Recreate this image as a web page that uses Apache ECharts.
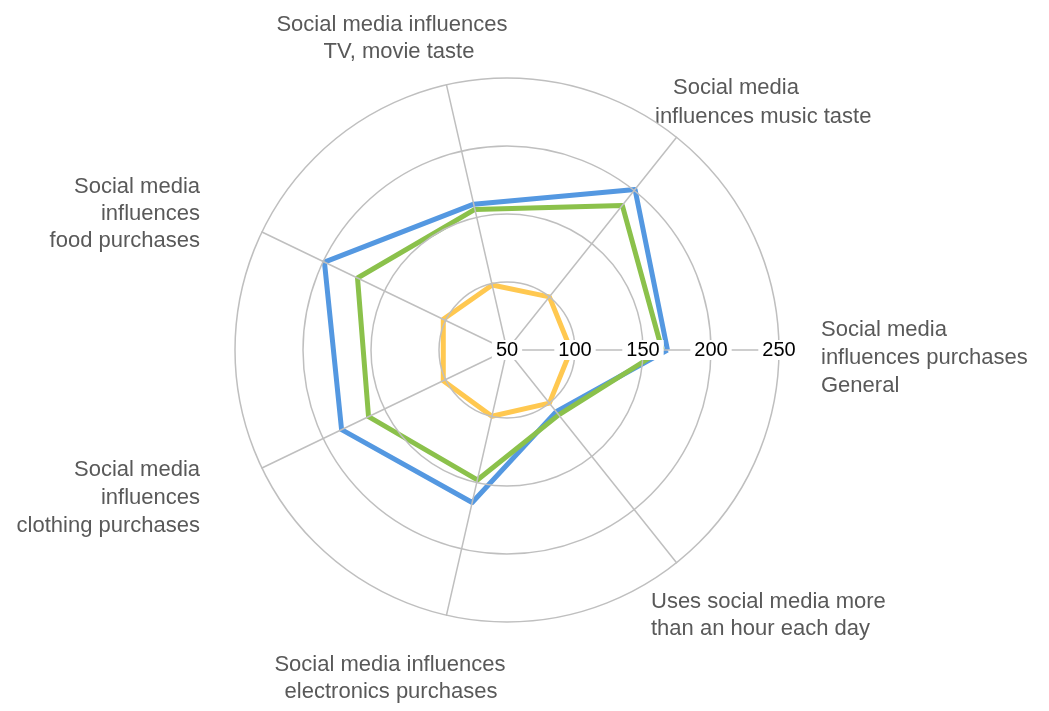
<!DOCTYPE html>
<html>
<head>
<meta charset="utf-8">
<title>Social media radar</title>
<script src="https://cdn.jsdelivr.net/npm/echarts@6.0.0/dist/echarts.min.js"></script>
<style>
  html, body { margin: 0; padding: 0; background: #fff; }
  #radarChart { width: 1049px; height: 711px; }
</style>
</head>
<body>
<div id="radarChart"></div>
<script>
// categories, going counter-clockwise from the right-hand spoke
const categories = [
  'Social media\ninfluences purchases\nGeneral',
  'Social media\ninfluences music taste',
  'Social media influences\nTV, movie taste',
  'Social media\ninfluences\nfood purchases',
  'Social media\ninfluences\nclothing purchases',
  'Social media influences\nelectronics purchases',
  'Uses social media more\nthan an hour each day'
];
const blueValues = [168, 201, 160, 199, 185, 165, 108];
const greenValues = [164, 186, 156, 172, 163, 148, 111];
const yellowValues = [97, 100, 99, 102, 102, 100, 100];
const axisMin = 50;
const axisMax = 250;
const tickStep = 50;

// where the category labels sit, one x/y per text line
const labelLayout = [
  { align: 'left', xs: [821, 821, 821], ys: [330, 358, 386] },
  { align: 'left', xs: [673, 655], ys: [88, 117] },
  { align: 'center', xs: [392, 399], ys: [25, 52] },
  { align: 'right', xs: [200, 200, 200], ys: [187, 214, 241] },
  { align: 'right', xs: [200, 200, 200], ys: [470, 498, 526] },
  { align: 'center', xs: [390, 391], ys: [665, 692] },
  { align: 'left', xs: [651, 651], ys: [602, 629] }
];

const fontFamily = '"Liberation Sans", Arial, Helvetica, sans-serif';
const gridColor = '#bfbfbf';

let myChart = echarts.init(document.getElementById('radarChart'));

let labelTexts = [];
categories.forEach((name, i) => {
  let spot = labelLayout[i];
  name.split('\n').forEach((line, j) => {
    labelTexts.push({
      type: 'text',
      x: spot.xs[j],
      y: spot.ys[j],
      style: {
        text: line,
        fill: '#595959',
        font: '22px ' + fontFamily,
        align: spot.align,
        textAlign: spot.align,
        verticalAlign: 'middle',
        textVerticalAlign: 'middle'
      }
    });
  });
});

let indicators = categories.map((name, i) => {
  let ind = { name: name, min: axisMin, max: axisMax };
  if (i === 0) {
    // value labels only along the right-hand spoke
    ind.axisLabel = {
      show: true,
      color: '#000',
      fontSize: 20,
      fontFamily: fontFamily,
      margin: 0,
      align: 'center',
      verticalAlign: 'middle',
      backgroundColor: '#fff',
      padding: [0, 4]
    };
  }
  return ind;
});

let option = {
  animation: false,
  backgroundColor: '#fff',
  radar: {
    center: [507, 350],
    radius: 272,
    startAngle: 0,
    shape: 'circle',
    splitNumber: (axisMax - axisMin) / tickStep,
    z: 3,
    indicator: indicators,
    axisName: { show: false },
    axisLabel: { show: false },
    axisTick: { show: false },
    axisLine: { lineStyle: { color: gridColor, width: 1.5 } },
    splitLine: { lineStyle: { color: gridColor, width: 1.5 } },
    splitArea: { show: false }
  },
  graphic: labelTexts,
  series: [
    {
      type: 'radar',
      symbol: 'none',
      z: 2,
      data: [
        { name: 'Series 1', value: blueValues, itemStyle: { color: '#5498E1' }, lineStyle: { color: '#5498E1', width: 5 } },
        { name: 'Series 2', value: greenValues, itemStyle: { color: '#8BC14B' }, lineStyle: { color: '#8BC14B', width: 5 } },
        { name: 'Series 3', value: yellowValues, itemStyle: { color: '#FFC850' }, lineStyle: { color: '#FFC850', width: 5 } }
      ]
    }
  ]
};
myChart.setOption(option);
</script>
</body>
</html>
